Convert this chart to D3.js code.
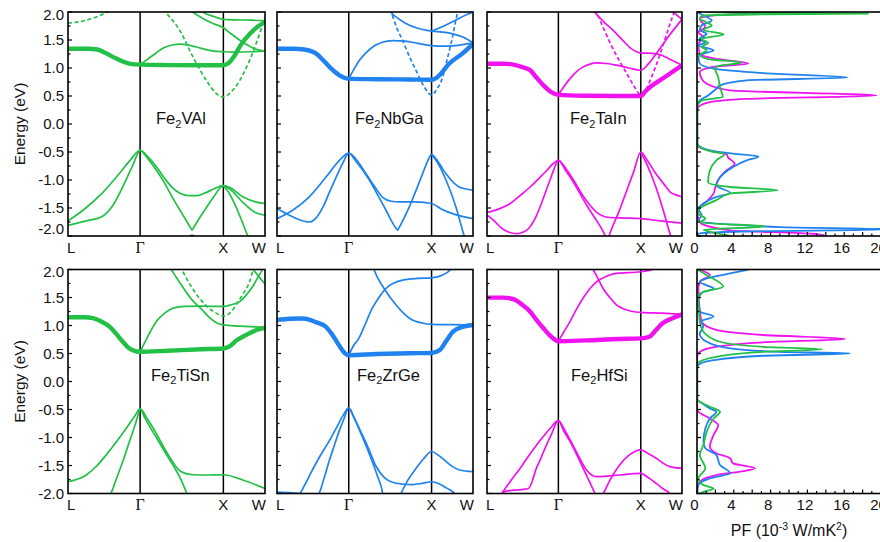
<!DOCTYPE html>
<html>
<head>
<meta charset="utf-8">
<script src="https://cdn.jsdelivr.net/npm/d3@7"></script>
<style>
  html, body { margin: 0; padding: 0; background: #fff; }
  svg { display: block; font-family: "Liberation Sans", Arial, sans-serif; }
</style>
</head>
<body>
<svg id="chart" width="880" height="542"></svg>
<script>
// ---- high-symmetry path L-Γ-X-W (path length in 2π/a units) ----
const kNodes = [0, 0.866, 1.866, 2.366];
const kNodeLabels = ["L", "Γ", "X", "W"];
const energyTicks = [2, 1.5, 1, 0.5, 0, -0.5, -1, -1.5, -2];
const pfTicks = [0, 4, 8, 12, 16, 20];
const compoundNames = ["Fe2VAl", "Fe2NbGa", "Fe2TaIn", "Fe2TiSn", "Fe2ZrGe", "Fe2HfSi"];

// ---- Fe2VAl bands [k, E(eV)] ----
const vAlThick = [[0,1.345],[0.25,1.345],[0.35,1.33],[0.45,1.27],[0.55,1.19],[0.65,1.12],[0.75,1.075],[0.866,1.06],[1.2,1.052],[1.6,1.048],[1.866,1.05],[1.92,1.08],[2.0,1.22],[2.07,1.40],[2.19,1.62],[2.28,1.74],[2.366,1.82]];
const vAlBands = [
  [[0.866,1.06],[0.95,1.15],[1.05,1.26],[1.15,1.36],[1.25,1.41],[1.35,1.425],[1.45,1.41],[1.6,1.35],[1.75,1.30],[1.866,1.29],[2.0,1.285],[2.2,1.29],[2.366,1.30]],
  [[1.46,2.05],[1.5,2.0],[1.6,1.90],[1.75,1.79],[1.866,1.72],[1.95,1.62],[2.1,1.46],[2.25,1.34],[2.366,1.30]],
  [[1.58,2.05],[1.62,2.0],[1.75,1.92],[1.866,1.87],[2.0,1.86],[2.2,1.855],[2.366,1.84]],
  [[0,-1.73],[0.18,-1.54],[0.38,-1.28],[0.58,-0.95],[0.745,-0.65],[0.866,-0.47],[0.95,-0.57],[1.05,-0.74],[1.15,-0.95],[1.25,-1.13],[1.35,-1.24],[1.45,-1.28],[1.55,-1.28],[1.65,-1.23],[1.75,-1.16],[1.866,-1.10],[1.95,-1.17],[2.1,-1.40],[2.25,-1.58],[2.366,-1.63]],
  [[0,-1.81],[0.22,-1.73],[0.40,-1.66],[0.54,-1.45],[0.665,-1.10],[0.786,-0.71],[0.866,-0.47],[0.95,-0.60],[1.05,-0.80],[1.15,-1.03],[1.25,-1.30],[1.37,-1.60],[1.49,-1.90]],
  [[1.49,-1.90],[1.57,-1.70],[1.65,-1.52],[1.75,-1.30],[1.866,-1.10],[1.95,-1.14],[2.1,-1.30],[2.25,-1.39],[2.366,-1.42]],
  [[1.866,-1.10],[1.92,-1.20],[2.0,-1.42],[2.08,-1.70],[2.16,-2.0],[2.18,-2.06]],
  [[1.42,-2.06],[1.49,-1.985],[1.56,-2.06]]
];
const vAlDashed = [
  [[0,1.80],[0.18,1.84],[0.34,1.91],[0.47,2.0],[0.52,2.04]],
  [[1.14,2.05],[1.17,2.0],[1.35,1.65],[1.51,1.17],[1.67,0.76],[1.77,0.56],[1.866,0.48],[1.95,0.56],[2.03,0.70],[2.19,1.17],[2.31,1.65],[2.366,1.90]]
];

// ---- Fe2NbGa bands ----
const nbGaThick = [[0,1.345],[0.2,1.345],[0.33,1.33],[0.473,1.256],[0.55,1.15],[0.633,1.02],[0.754,0.87],[0.866,0.81],[1.2,0.80],[1.6,0.795],[1.866,0.79],[1.92,0.82],[1.96,0.87],[2.08,1.08],[2.24,1.26],[2.366,1.43]];
const nbGaBands = [
  [[0.866,0.81],[0.93,0.98],[0.995,1.14],[1.08,1.28],[1.155,1.375],[1.27,1.46],[1.396,1.49],[1.55,1.48],[1.7,1.44],[1.866,1.40],[2.0,1.39],[2.15,1.40],[2.366,1.45]],
  [[1.36,2.05],[1.376,2.0],[1.45,1.90],[1.55,1.80],[1.7,1.71],[1.866,1.66],[2.0,1.64],[2.12,1.61],[2.25,1.55],[2.366,1.45]],
  [[1.866,1.66],[2.0,1.74],[2.15,1.85],[2.3,1.96],[2.366,2.0]],
  [[0,-1.69],[0.19,-1.54],[0.39,-1.30],[0.59,-0.95],[0.754,-0.65],[0.866,-0.52],[0.95,-0.62],[1.075,-0.89],[1.18,-1.12],[1.276,-1.31],[1.38,-1.38],[1.476,-1.39],[1.677,-1.39],[1.866,-1.42],[2.0,-1.53],[2.12,-1.60],[2.366,-1.69]],
  [[0,-1.51],[0.15,-1.63],[0.27,-1.71],[0.39,-1.75],[0.47,-1.68],[0.553,-1.49],[0.63,-1.23],[0.714,-0.95],[0.8,-0.68],[0.866,-0.52],[0.95,-0.66],[1.115,-1.0],[1.22,-1.28],[1.316,-1.54],[1.40,-1.78],[1.456,-1.90]],
  [[1.456,-1.90],[1.52,-1.72],[1.597,-1.48],[1.68,-1.18],[1.757,-0.89],[1.82,-0.66],[1.866,-0.54],[1.92,-0.62],[2.04,-0.89],[2.12,-1.03],[2.2,-1.125],[2.366,-1.18]],
  [[1.866,-0.54],[1.95,-0.72],[2.04,-1.0],[2.16,-1.48],[2.24,-1.90],[2.27,-2.05]]
];
const nbGaDashed = [
  [[1.36,2.05],[1.376,2.0],[1.45,1.70],[1.517,1.49],[1.6,1.20],[1.677,0.96],[1.77,0.68],[1.866,0.52],[1.93,0.62],[2.0,0.84],[2.05,1.13],[2.1,1.43],[2.18,1.99],[2.19,2.05]]
];

// ---- Fe2TaIn bands ----
const taInThick = [[0,1.077],[0.2,1.077],[0.32,1.06],[0.42,1.02],[0.524,0.96],[0.6,0.83],[0.685,0.69],[0.78,0.57],[0.866,0.52],[1.2,0.505],[1.6,0.50],[1.866,0.50],[1.92,0.58],[1.98,0.66],[2.15,0.83],[2.366,1.05]];
const taInBands = [
  [[0.866,0.52],[0.93,0.66],[1.007,0.81],[1.09,0.94],[1.167,1.02],[1.25,1.07],[1.328,1.09],[1.45,1.08],[1.57,1.05],[1.72,1.00],[1.866,0.96],[1.95,1.06],[2.05,1.25],[2.2,1.56],[2.366,1.87]],
  [[1.29,2.03],[1.306,2.0],[1.42,1.82],[1.546,1.65],[1.65,1.49],[1.746,1.35],[1.866,1.27],[2.0,1.26],[2.1,1.24],[2.2,1.17],[2.366,1.05]],
  [[2.22,2.05],[2.3,1.95],[2.366,1.87]],
  [[0,-1.58],[0.14,-1.52],[0.282,-1.42],[0.4,-1.28],[0.524,-1.125],[0.63,-0.97],[0.725,-0.83],[0.8,-0.71],[0.866,-0.65],[0.95,-0.78],[1.05,-1.0],[1.15,-1.25],[1.25,-1.45],[1.35,-1.60],[1.488,-1.67],[1.7,-1.68],[1.866,-1.69],[2.1,-1.73],[2.366,-1.77]],
  [[0,-1.63],[0.08,-1.72],[0.161,-1.84],[0.26,-1.93],[0.363,-1.96],[0.44,-1.93],[0.503,-1.87],[0.58,-1.70],[0.644,-1.48],[0.71,-1.22],[0.765,-1.0],[0.82,-0.78],[0.866,-0.65],[0.95,-0.82],[1.05,-1.04],[1.127,-1.24],[1.23,-1.50],[1.328,-1.72],[1.41,-1.92],[1.45,-2.05]],
  [[1.47,-2.05],[1.5,-1.92],[1.6,-1.57],[1.69,-1.21],[1.78,-0.85],[1.866,-0.50],[1.95,-0.66],[2.05,-0.89],[2.14,-1.06],[2.22,-1.21],[2.3,-1.27],[2.366,-1.30]],
  [[1.866,-0.50],[1.94,-0.72],[2.05,-1.13],[2.14,-1.55],[2.22,-1.96],[2.24,-2.05]]
];
const taInDashed = [
  [[1.31,2.05],[1.326,2.0],[1.42,1.69],[1.506,1.41],[1.61,1.12],[1.706,0.875],[1.79,0.66],[1.866,0.52],[1.93,0.62],[1.99,0.815],[2.11,1.29],[2.23,1.83],[2.27,2.0],[2.28,2.05]]
];

// ---- Fe2TiSn bands ----
const tiSnThick = [[0,1.146],[0.2,1.146],[0.3,1.13],[0.4,1.07],[0.499,0.98],[0.58,0.85],[0.658,0.71],[0.73,0.60],[0.778,0.56],[0.866,0.53],[1.2,0.55],[1.6,0.575],[1.866,0.59],[1.93,0.62],[2.03,0.74],[2.15,0.84],[2.25,0.91],[2.366,0.96]];
const tiSnBands = [
  [[0.866,0.53],[0.95,0.78],[1.061,1.07],[1.16,1.22],[1.264,1.31],[1.4,1.34],[1.6,1.345],[1.866,1.34],[1.96,1.37],[2.066,1.43],[2.15,1.56],[2.22,1.70],[2.28,1.86],[2.335,2.0],[2.35,2.05]],
  [[1.21,2.05],[1.229,2.02],[1.3,1.86],[1.39,1.66],[1.5,1.44],[1.592,1.31],[1.7,1.14],[1.794,1.04],[1.866,1.01],[2.06,0.99],[2.366,0.965]],
  [[2.18,2.05],[2.22,2.0],[2.3,1.86],[2.366,1.74]],
  [[0,-1.79],[0.219,-1.67],[0.35,-1.50],[0.459,-1.31],[0.58,-1.08],[0.698,-0.84],[0.8,-0.62],[0.866,-0.49],[0.95,-0.66],[1.061,-0.93],[1.16,-1.20],[1.264,-1.45],[1.33,-1.58],[1.42,-1.645],[1.508,-1.665],[1.7,-1.67],[1.866,-1.665],[2.1,-1.76],[2.366,-1.91]],
  [[0.49,-2.05],[0.52,-1.98],[0.59,-1.70],[0.658,-1.43],[0.72,-1.15],[0.778,-0.90],[0.83,-0.66],[0.866,-0.49],[0.92,-0.64],[0.98,-0.80],[1.061,-1.0],[1.16,-1.25],[1.264,-1.50],[1.36,-1.76],[1.427,-2.0],[1.44,-2.05]]
];
const tiSnDashed = [
  [[1.33,2.05],[1.35,2.02],[1.45,1.77],[1.55,1.54],[1.65,1.37],[1.75,1.25],[1.866,1.17],[1.95,1.23],[2.02,1.37],[2.1,1.56],[2.18,1.78],[2.23,2.02],[2.24,2.05]]
];

// ---- Fe2ZrGe bands ----
const zrGeThick = [[0,1.10],[0.15,1.12],[0.3,1.125],[0.4,1.10],[0.47,1.06],[0.588,0.98],[0.67,0.83],[0.747,0.65],[0.81,0.52],[0.866,0.47],[1.2,0.49],[1.6,0.505],[1.866,0.51],[1.963,0.56],[2.05,0.74],[2.124,0.89],[2.25,0.98],[2.366,1.01]];
const zrGeBands = [
  [[0.866,0.47],[0.92,0.63],[0.988,0.77],[1.07,1.04],[1.15,1.31],[1.23,1.50],[1.313,1.66],[1.4,1.75],[1.516,1.81],[1.7,1.84],[1.866,1.85],[2.0,1.90],[2.1,2.0],[2.13,2.05]],
  [[1.16,2.05],[1.171,2.0],[1.293,1.66],[1.435,1.37],[1.598,1.13],[1.76,1.04],[1.866,1.02],[2.124,1.015],[2.366,1.01]],
  [[0,-1.975],[0.15,-1.985],[0.27,-2.0],[0.33,-1.86],[0.42,-1.60],[0.52,-1.33],[0.628,-1.07],[0.72,-0.82],[0.8,-0.60],[0.866,-0.47],[0.93,-0.64],[1.0,-0.86],[1.1,-1.18],[1.19,-1.50],[1.3,-1.72],[1.394,-1.80],[1.5,-1.83],[1.638,-1.84],[1.75,-1.82],[1.866,-1.79],[1.95,-1.82],[2.043,-1.90],[2.144,-2.0],[2.17,-2.05]],
  [[0.49,-2.05],[0.508,-2.0],[0.57,-1.72],[0.628,-1.43],[0.69,-1.15],[0.747,-0.90],[0.81,-0.66],[0.866,-0.47],[0.92,-0.62],[0.988,-0.84],[1.07,-1.13],[1.15,-1.43],[1.22,-1.72],[1.273,-1.98],[1.28,-2.05]],
  [[1.48,-2.05],[1.496,-2.0],[1.58,-1.76],[1.679,-1.55],[1.77,-1.38],[1.866,-1.25],[1.95,-1.32],[2.043,-1.43],[2.12,-1.52],[2.204,-1.58],[2.366,-1.61]]
];
const zrGeDashed = [];

// ---- Fe2HfSi bands ----
const hfSiThick = [[0,1.497],[0.2,1.497],[0.32,1.47],[0.42,1.38],[0.524,1.247],[0.6,1.10],[0.685,0.95],[0.78,0.80],[0.866,0.72],[1.2,0.735],[1.6,0.76],[1.866,0.77],[1.97,0.80],[2.05,0.92],[2.13,1.04],[2.25,1.13],[2.366,1.20]];
const hfSiBands = [
  [[0.866,0.72],[0.93,0.88],[1.007,1.07],[1.09,1.30],[1.167,1.49],[1.25,1.66],[1.328,1.78],[1.45,1.88],[1.57,1.93],[1.866,1.96],[1.95,1.98],[2.01,2.0],[2.05,2.03]],
  [[1.27,2.05],[1.288,2.0],[1.35,1.83],[1.408,1.66],[1.49,1.50],[1.57,1.37],[1.67,1.29],[1.77,1.25],[1.866,1.235],[2.13,1.22],[2.366,1.20]],
  [[0.16,-2.05],[0.181,-2.0],[0.29,-1.77],[0.403,-1.55],[0.5,-1.34],[0.604,-1.13],[0.69,-0.97],[0.765,-0.84],[0.866,-0.70],[0.94,-0.86],[1.007,-1.04],[1.1,-1.30],[1.207,-1.58],[1.27,-1.67],[1.328,-1.70],[1.45,-1.69],[1.609,-1.67],[1.866,-1.64],[1.96,-1.72],[2.053,-1.82],[2.14,-1.92],[2.216,-2.0],[2.24,-2.05]],
  [[0.16,-2.05],[0.2,-1.97],[0.322,-1.94],[0.42,-1.93],[0.503,-1.91],[0.545,-1.80],[0.584,-1.61],[0.645,-1.40],[0.705,-1.19],[0.78,-0.95],[0.866,-0.70],[0.93,-0.88],[1.007,-1.07],[1.09,-1.31],[1.167,-1.55],[1.24,-1.78],[1.308,-2.0],[1.32,-2.05]],
  [[1.39,-2.05],[1.41,-2.0],[1.5,-1.74],[1.609,-1.49],[1.72,-1.32],[1.866,-1.22],[1.96,-1.29],[2.053,-1.37],[2.13,-1.45],[2.216,-1.52],[2.366,-1.55]]
];
const hfSiDashed = [];

// ---- power factor PF(E): [E(eV), PF (1e-3 W/mK^2)] ----
const pfVAl = [[2.03,0.5],[2.0,1.5],[1.985,8],[1.97,18.6],[1.955,6],[1.935,0.6],[1.88,0.3],[1.82,1.0],[1.76,1.6],[1.68,0.7],[1.60,2.9],[1.52,0.5],[1.45,1.2],[1.375,0.5],[1.32,1.05],[1.23,0.3],[1.16,1.2],[1.095,4.85],[1.04,2.4],[0.99,1.96],[0.84,2.3],[0.66,2.5],[0.48,2.8],[0.42,0.5],[0.30,0.04],[-0.35,0.04],[-0.41,0.3],[-0.50,1.8],[-0.53,3.0],[-0.65,2.1],[-0.83,1.4],[-1.04,1.2],[-1.125,3.6],[-1.185,8.8],[-1.24,3.6],[-1.36,2.1],[-1.51,0.3],[-1.60,0.15],[-1.69,0.9],[-1.76,0.3],[-1.83,7.4],[-1.89,0.7],[-1.96,2.5],[-2.0,3.6]];
const pfNbGa = [[2.0,0.1],[1.99,0.15],[1.91,1.05],[1.85,1.6],[1.76,0.5],[1.68,0.3],[1.61,1.05],[1.52,0.3],[1.46,0.9],[1.40,0.15],[1.315,1.8],[1.256,0.7],[1.2,0.15],[1.08,0.3],[0.99,1.8],[0.91,7.2],[0.83,16.4],[0.78,5.4],[0.69,2.5],[0.63,2.1],[0.51,1.2],[0.42,0.3],[0.33,0.02],[-0.33,0.02],[-0.38,0.15],[-0.47,1.4],[-0.53,3.9],[-0.58,6.7],[-0.65,5.4],[-0.77,3.9],[-0.95,2.5],[-1.10,2.1],[-1.23,3.6],[-1.30,2.1],[-1.42,0.7],[-1.51,0.15],[-1.63,0.5],[-1.72,0.15],[-1.84,9],[-1.88,21],[-1.92,5],[-1.96,0.15],[-2.0,0.05]];
const pfTaIn = [[2.02,9],[1.99,7.6],[1.94,1.8],[1.88,0.3],[1.73,0.9],[1.64,0.15],[1.55,0.7],[1.43,0.15],[1.25,0.3],[1.17,1.8],[1.08,5.6],[1.02,1.8],[0.93,0.3],[0.81,0.5],[0.72,1.05],[0.60,3.6],[0.51,19.5],[0.45,5.4],[0.39,1.4],[0.30,0.15],[0.25,0.02],[-0.36,0.02],[-0.41,0.15],[-0.50,2.1],[-0.54,3.2],[-0.60,3.4],[-0.71,4.1],[-0.83,3.2],[-0.95,2.5],[-1.125,2.0],[-1.24,1.8],[-1.36,1.2],[-1.48,0.3],[-1.60,0.05],[-1.75,0.3],[-1.90,3.6],[-1.96,12.6],[-2.0,14]];
const pfTiSn = [[2.0,0.05],[1.9,1.05],[1.69,2.86],[1.60,0.7],[1.52,0.15],[1.07,0.3],[0.89,0.7],[0.71,2.5],[0.62,7.2],[0.575,13.6],[0.53,7.2],[0.44,2.1],[0.355,0.3],[0.30,0.02],[-0.32,0.02],[-0.36,0.3],[-0.45,1.4],[-0.54,2.5],[-0.66,1.8],[-0.90,1.05],[-1.13,0.7],[-1.31,0.3],[-1.55,0.9],[-1.73,0.15],[-1.85,0.7],[-1.91,1.8],[-1.97,0.7],[-2.0,0.3]];
const pfZrGe = [[2.0,5.6],[1.93,3.6],[1.84,1.05],[1.78,0.3],[1.72,1.0],[1.66,1.8],[1.58,0.5],[1.45,0.15],[1.25,0.3],[1.16,1.8],[1.07,0.3],[1.0,0.7],[0.85,0.3],[0.71,1.05],[0.59,3.6],[0.53,9],[0.50,16.6],[0.46,7.2],[0.38,1.8],[0.295,0.15],[0.25,0.02],[-0.32,0.02],[-0.36,0.3],[-0.48,1.4],[-0.54,2.1],[-0.66,1.4],[-0.84,0.9],[-1.07,0.7],[-1.19,0.9],[-1.31,2.1],[-1.49,2.5],[-1.64,3.6],[-1.73,1.4],[-1.85,0.15],[-2.0,0.02]];
const pfHfSi = [[2.0,0.15],[1.90,1.4],[1.78,0.3],[1.66,0.15],[1.28,0.3],[1.07,0.5],[0.92,2.1],[0.83,7.2],[0.76,16.1],[0.70,7.2],[0.62,2.1],[0.53,0.3],[0.45,0.02],[-0.50,0.02],[-0.54,0.15],[-0.66,1.4],[-0.78,2.3],[-0.955,1.8],[-1.16,1.4],[-1.28,2.1],[-1.37,3.6],[-1.46,3.9],[-1.55,6.3],[-1.61,4.7],[-1.67,2.1],[-1.79,0.3],[-1.9,0.02],[-2.0,0.02]];

// ---- layout ----
const GREEN = "#22c046", BLUE = "#1f82ee", MAGENTA = "#f012f0";
const panelCols = [[68, 265], [277, 473], [487, 682]];
const pfCol = [697, 881];
const panelRows = [[12, 236], [269.5, 493.5]];
const FONT = "'Liberation Sans', Arial, sans-serif";

const panels = [
  {row: 0, col: 0, name: compoundNames[0], color: GREEN,   thick: vAlThick,  thin: vAlBands,  dashed: vAlDashed,  lx: 156},
  {row: 0, col: 1, name: compoundNames[1], color: BLUE,    thick: nbGaThick, thin: nbGaBands, dashed: nbGaDashed, lx: 355},
  {row: 0, col: 2, name: compoundNames[2], color: MAGENTA, thick: taInThick, thin: taInBands, dashed: taInDashed, lx: 570},
  {row: 1, col: 0, name: compoundNames[3], color: GREEN,   thick: tiSnThick, thin: tiSnBands, dashed: tiSnDashed, lx: 151},
  {row: 1, col: 1, name: compoundNames[4], color: BLUE,    thick: zrGeThick, thin: zrGeBands, dashed: zrGeDashed, lx: 357},
  {row: 1, col: 2, name: compoundNames[5], color: MAGENTA, thick: hfSiThick, thin: hfSiBands, dashed: hfSiDashed, lx: 571}
];
const pfPanels = [
  {row: 0, series: [[pfTaIn, MAGENTA], [pfNbGa, BLUE], [pfVAl, GREEN]]},
  {row: 1, series: [[pfHfSi, MAGENTA], [pfZrGe, BLUE], [pfTiSn, GREEN]]}
];

const svg = d3.select("#chart");
const defs = svg.append("defs");

function energyScale(row) {
  return d3.scaleLinear().domain([-2, 2]).range([panelRows[row][1], panelRows[row][0]]);
}

function leftTicks(g, x0, y) {
  d3.range(-2, 2.001, 0.25).forEach(v => {
    const major = Math.abs(v * 2 - Math.round(v * 2)) < 1e-6;
    g.append("line")
      .attr("x1", x0).attr("x2", x0 + (major ? 4 : 2.5))
      .attr("y1", y(v)).attr("y2", y(v))
      .attr("stroke", "#000").attr("stroke-width", 1.2);
  });
}

function frame(g, x0, x1, y0, y1) {
  g.append("rect").attr("x", x0).attr("y", y0)
    .attr("width", x1 - x0).attr("height", y1 - y0)
    .attr("fill", "none").attr("stroke", "#000").attr("stroke-width", 1.6);
}

function compoundLabel(g, name, x, y) {
  const t = g.append("text").attr("x", x).attr("y", y)
    .attr("font-family", FONT).attr("font-size", 16.5).attr("fill", "#111");
  const parts = name.match(/^([A-Za-z]+)(\d)(.*)$/);
  t.append("tspan").text(parts[1]);
  t.append("tspan").attr("font-size", 11).attr("dy", 3.5).text(parts[2]);
  t.append("tspan").attr("dy", -3.5).text(parts[3]);
}

panels.forEach((p, i) => {
  const [x0, x1] = panelCols[p.col];
  const [y0, y1] = panelRows[p.row];
  const x = d3.scaleLinear().domain([kNodes[0], kNodes[3]]).range([x0, x1]);
  const y = energyScale(p.row);
  const g = svg.append("g");

  const clipId = "clip" + i;
  defs.append("clipPath").attr("id", clipId)
    .append("rect").attr("x", x0).attr("y", y0).attr("width", x1 - x0).attr("height", y1 - y0);

  // vertical lines at Γ and X
  [kNodes[1], kNodes[2]].forEach(k => {
    g.append("line").attr("x1", x(k)).attr("x2", x(k)).attr("y1", y0).attr("y2", y1)
      .attr("stroke", "#000").attr("stroke-width", 1.5);
  });

  const line = d3.line().x(d => x(d[0])).y(d => y(d[1])).curve(d3.curveMonotoneX);
  const bands = g.append("g").attr("clip-path", `url(#${clipId})`).attr("fill", "none").attr("stroke", p.color);
  p.thin.forEach(b => bands.append("path").attr("d", line(b)).attr("stroke-width", 1.7));
  p.dashed.forEach(b => bands.append("path").attr("d", line(b)).attr("stroke-width", 1.7).attr("stroke-dasharray", "4,2.6"));
  bands.append("path").attr("d", line(p.thick)).attr("stroke-width", 4.4).attr("stroke-linejoin", "round");

  leftTicks(g, x0, y);
  frame(g, x0, x1, y0, y1);

  // high-symmetry point labels
  const ly = y1 + 16.5;
  kNodeLabels.forEach((lab, j) => {
    const t = g.append("text").attr("y", ly).attr("font-size", 15).attr("fill", "#111");
    if (j === 0) t.attr("x", x0 - 1).attr("text-anchor", "start").attr("font-family", FONT);
    else if (j === 3) t.attr("x", x1 + 1).attr("text-anchor", "end").attr("font-family", FONT);
    else t.attr("x", x(kNodes[j])).attr("text-anchor", "middle")
      .attr("font-family", j === 1 ? "'Liberation Serif', 'Times New Roman', serif" : FONT)
      .attr("font-size", j === 1 ? 16 : 15);
    t.text(lab);
  });

  compoundLabel(g, p.name, p.lx, p.row === 0 ? 124 : 380.5);

  // energy axis labels on the first column
  if (p.col === 0) {
    energyTicks.forEach(v => {
      let yy = y(v);
      if (v === 2) yy += 2.5;
      if (v === -2 && p.row === 0) yy -= 7.5;
      g.append("text").attr("x", x0 - 4).attr("y", yy)
        .attr("dy", "0.35em").attr("text-anchor", "end")
        .attr("font-family", FONT).attr("font-size", 15).attr("fill", "#111")
        .text(v.toFixed(1));
    });
    g.append("text")
      .attr("transform", `translate(20,${(y0 + y1) / 2}) rotate(-90)`)
      .attr("text-anchor", "middle").attr("dy", "0.35em")
      .attr("font-family", FONT).attr("font-size", 15.5).attr("fill", "#111")
      .text("Energy (eV)");
  }
});

// power-factor panels
pfPanels.forEach((p, i) => {
  const [x0, x1] = pfCol;
  const [y0, y1] = panelRows[p.row];
  const x = d3.scaleLinear().domain([0, 20]).range([x0, x1]);
  const y = energyScale(p.row);
  const g = svg.append("g");

  const clipId = "pfclip" + i;
  defs.append("clipPath").attr("id", clipId)
    .append("rect").attr("x", x0).attr("y", y0).attr("width", x1 - x0).attr("height", y1 - y0);

  const line = d3.line().x(d => x(d[1])).y(d => y(d[0])).curve(d3.curveMonotoneY);
  const curves = g.append("g").attr("clip-path", `url(#${clipId})`).attr("fill", "none");
  p.series.forEach(([data, color]) => {
    curves.append("path").attr("d", line(data)).attr("stroke", color).attr("stroke-width", 1.8);
  });

  leftTicks(g, x0, y);
  d3.range(0, 21, 1).forEach(v => {
    g.append("line").attr("x1", x(v)).attr("x2", x(v))
      .attr("y1", y1).attr("y2", y1 - (v % 2 === 0 ? 4 : 2.5))
      .attr("stroke", "#000").attr("stroke-width", 1.2);
  });
  frame(g, x0, x1, y0, y1);

  pfTicks.forEach(v => {
    g.append("text").attr("x", x(v) - 2.5).attr("y", y1 + 16.5)
      .attr("text-anchor", "middle").attr("font-family", FONT)
      .attr("font-size", 15).attr("fill", "#111").text(v);
  });
});

// power-factor axis title
const pfTitle = svg.append("text").attr("x", 789).attr("y", 536)
  .attr("text-anchor", "middle").attr("font-family", FONT)
  .attr("font-size", 16).attr("fill", "#111");
pfTitle.append("tspan").text("PF (10");
pfTitle.append("tspan").attr("font-size", 10.5).attr("dy", -6).text("-3");
pfTitle.append("tspan").attr("dy", 6).text(" W/mK");
pfTitle.append("tspan").attr("font-size", 10.5).attr("dy", -6).text("2");
pfTitle.append("tspan").attr("dy", 6).text(")");
</script>
</body>
</html>
